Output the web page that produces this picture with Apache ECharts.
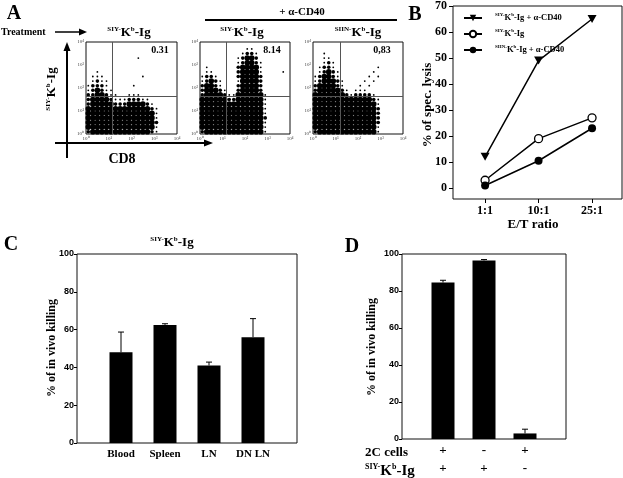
<!DOCTYPE html>
<html>
<head>
<meta charset="utf-8">
<script src="https://cdn.jsdelivr.net/npm/echarts@6/dist/echarts.min.js"></script>
<style>
    html, body { margin: 0; padding: 0; background: #fff; }
    #chart { width: 623px; height: 478px; }
</style>
</head>
<body>
<div id="chart"></div>
<script>
// A: dot plots, read as 20x20 density cells (0 empty, 1 sparse, 2 medium, 3 dense), top row first
const densitySiy = [
    '00000000000000000000',
    '00000000000000000000',
    '00000000000000000000',
    '00000000000100000000',
    '00000000000000000000',
    '00000000000000000000',
    '00100000000000000000',
    '01110000000010000000',
    '01211000000000000000',
    '12221000001000000000',
    '12321100000000000000',
    '22332110011100000000',
    '23333211122211000000',
    '23333322233332100000',
    '33333333333333210000',
    '33333333333333310000',
    '33333333333333310000',
    '33333333333333320000',
    '33333333333333310000',
    '23333333333333210000'
];
const densitySiyCd40 = [
    '00000000000000000000',
    '00000000001100000000',
    '00000000012210000000',
    '00000000123320000000',
    '00000000123321000000',
    '01000000233331000000',
    '01100000233331000010',
    '12210000233332000000',
    '12321000133332000000',
    '23321000233332000000',
    '23332100233332000000',
    '23333211333333100000',
    '33333322333333100000',
    '33333333333333100000',
    '33333333333333100000',
    '33333333333333100000',
    '33333333333333200000',
    '33333333333333100000',
    '33333333333333100000',
    '23333333333333100000'
];
const densitySiinCd40 = [
    '00000000000000000000',
    '00000000000000000000',
    '00100000000000000000',
    '00110000000000000000',
    '00121000000000000000',
    '01221000000000100000',
    '01232100000001000000',
    '12332100000010100000',
    '12333210000101000000',
    '23333210001010000000',
    '23333321011100000000',
    '33333332122221000000',
    '33333333333332100000',
    '33333333333333100000',
    '33333333333333200000',
    '33333333333333200000',
    '33333333333333200000',
    '33333333333333200000',
    '33333333333333100000',
    '23333333333333100000'
];
const plotPrefixes = ['SIY-', 'SIY-', 'SIIN-'];
const plotPercents = ['0.31', '8.14', '0,83'];
const gateX = [1.14, 1.16, 1.2];
const gateY = [1.65, 1.65, 1.65];
const decadeLabels = ['10⁰', '10¹', '10²', '10³', '10⁴'];

// B: lysis
const ratioLabels = ['1:1', '10:1', '25:1'];
const lysisSiyCd40 = [12, 49, 65];
const lysisSiy = [3, 19, 27];
const lysisSiinCd40 = [1, 10.5, 23];
const lysisTicks = [0, 10, 20, 30, 40, 50, 60, 70];

// C: organs
const organs = ['Blood', 'Spleen', 'LN', 'DN LN'];
const killingOrgans = [48, 62.5, 41, 56];
const killingOrgansErr = [10.7, 0.6, 1.8, 9.8];

// D: groups
const cellsRow = ['+', '-', '+'];
const tetramerRow = ['+', '+', '-'];
const killingGroups = [84.6, 96.5, 3];
const killingGroupsErr = [1.2, 0.5, 2.3];

const serif = 'Liberation Serif';
const sans = 'Liberation Sans';
const dotSize = [0, 1.8, 3.6, 5.6];

const chart = echarts.init(document.getElementById('chart'));

function densityPoints(rows) {
    const pts = [];
    rows.forEach((row, r) => {
        for (let c = 0; c < row.length; c++) {
            const level = +row[c];
            if (level > 0) {
                pts.push([c * 0.2 + 0.1, (rows.length - 1 - r) * 0.2 + 0.1, level]);
            }
        }
    });
    return pts;
}

function errorSeries(axis, means, errs) {
    return {
        type: 'custom',
        xAxisIndex: axis,
        yAxisIndex: axis,
        z: 3,
        silent: true,
        data: means.map((m, i) => [i + 1, m, m + errs[i]]),
        renderItem: function (params, api) {
            const base = api.coord([api.value(0), api.value(1)]);
            const top = api.coord([api.value(0), api.value(2)]);
            return {
                type: 'group',
                children: [
                    {type: 'line', shape: {x1: base[0], y1: base[1], x2: top[0], y2: top[1]}, style: {stroke: '#000', lineWidth: 1}},
                    {type: 'line', shape: {x1: top[0] - 3, y1: top[1], x2: top[0] + 3, y2: top[1]}, style: {stroke: '#000', lineWidth: 1}}
                ]
            };
        }
    };
}

function makeKbRich(big, small) {
    return {
        s: {fontFamily: serif, fontWeight: 'bold', fontSize: small, verticalAlign: 'top', lineHeight: big + 1},
        k: {fontFamily: serif, fontWeight: 'bold', fontSize: big, lineHeight: big + 1},
        b: {fontFamily: serif, fontWeight: 'bold', fontSize: small, verticalAlign: 'top', lineHeight: big + 1}
    };
}
const kbRich = makeKbRich(13, 7);

function kbText(prefix) {
    return '{s|' + prefix + '}{k|K}{b|b}{k|-Ig}';
}

// 1. grids
const grids = [
    {left: 86, top: 42, width: 91, height: 92},
    {left: 200, top: 42, width: 90, height: 92},
    {left: 313, top: 42, width: 90, height: 92},
    {left: 453, top: 5, width: 169, height: 194},
    {left: 77, top: 254, width: 220, height: 189},
    {left: 402, top: 254, width: 164, height: 189}
].map(g => Object.assign({show: true, borderColor: '#111', borderWidth: 1, containLabel: false}, g));

// 2. axes (onZero off so the axes stay on the grid edges)
const hiddenLine = {show: false, onZero: false};
const xAxes = [];
const yAxes = [];
for (let k = 0; k < 3; k++) {
    xAxes.push({
        type: 'value', gridIndex: k, min: 0, max: 4, interval: 1,
        axisLine: hiddenLine, axisTick: {show: false}, splitLine: {show: false},
        axisLabel: {fontSize: 5, color: '#444', margin: 2, formatter: v => decadeLabels[v]}
    });
    yAxes.push({
        type: 'value', gridIndex: k, min: 0, max: 4, interval: 1,
        axisLine: hiddenLine, axisTick: {show: false}, splitLine: {show: false},
        axisLabel: {fontSize: 5, color: '#444', margin: 2, formatter: v => decadeLabels[v]}
    });
}
xAxes.push({
    type: 'value', gridIndex: 3, min: -0.6, max: 2.56,
    axisLine: hiddenLine, splitLine: {show: false},
    axisTick: {show: true, inside: false, length: 4, customValues: [0, 1, 2], lineStyle: {color: '#000'}},
    axisLabel: {customValues: [0, 1, 2], formatter: v => ratioLabels[v], margin: 6,
        fontFamily: serif, fontWeight: 'bold', fontSize: 12, color: '#000'}
});
yAxes.push({
    type: 'value', gridIndex: 3, min: -4.2, max: 70,
    axisLine: hiddenLine, splitLine: {show: false},
    axisTick: {show: true, inside: false, length: 4, customValues: lysisTicks, lineStyle: {color: '#000'}},
    axisLabel: {customValues: lysisTicks, margin: 6, fontFamily: serif, fontWeight: 'bold', fontSize: 12, color: '#000'}
});
xAxes.push({
    type: 'value', gridIndex: 4, min: 0, max: 5,
    axisLine: hiddenLine, splitLine: {show: false}, axisTick: {show: false},
    axisLabel: {customValues: [1, 2, 3, 4], formatter: v => organs[v - 1], margin: 6,
        fontFamily: serif, fontWeight: 'bold', fontSize: 11, color: '#000'}
});
yAxes.push({
    type: 'value', gridIndex: 4, min: 0, max: 100, interval: 20,
    axisLine: hiddenLine, splitLine: {show: false},
    axisTick: {show: true, inside: false, length: 3, lineStyle: {color: '#000'}},
    axisLabel: {margin: 3, fontFamily: sans, fontWeight: 'bold', fontSize: 9, color: '#000'}
});
xAxes.push({
    type: 'value', gridIndex: 5, min: 0, max: 4,
    axisLine: hiddenLine, splitLine: {show: false}, axisTick: {show: false},
    axisLabel: {customValues: [1, 2, 3], margin: 3, lineHeight: 18,
        formatter: v => cellsRow[v - 1] + '\n' + tetramerRow[v - 1],
        fontFamily: serif, fontWeight: 'bold', fontSize: 13, color: '#000'}
});
yAxes.push({
    type: 'value', gridIndex: 5, min: 0, max: 100, interval: 20,
    axisLine: hiddenLine, splitLine: {show: false},
    axisTick: {show: true, inside: false, length: 3, lineStyle: {color: '#000'}},
    axisLabel: {margin: 3, fontFamily: sans, fontWeight: 'bold', fontSize: 9, color: '#000'}
});

// 3. series
const series = [];
[densitySiy, densitySiyCd40, densitySiinCd40].forEach((rows, k) => {
    series.push({
        type: 'scatter', xAxisIndex: k, yAxisIndex: k, silent: true,
        data: densityPoints(rows),
        symbolSize: v => dotSize[v[2]],
        itemStyle: {color: '#000', opacity: 1},
        markLine: {
            silent: true, symbol: 'none', label: {show: false}, animation: false,
            lineStyle: {color: '#555', width: 1, type: 'solid'},
            data: [{xAxis: gateX[k]}, {yAxis: gateY[k]}]
        }
    });
});

const legendNames = ['SIY-Kb-Ig + α-CD40', 'SIY-Kb-Ig', 'SIIN-Kb-Ig + α-CD40'];
const legendRich = {
    '0': '{g|}{s|SIY-}{k|K}{b|b}{k|-Ig + α-CD40}',
    '1': '{g|}{s|SIY-}{k|K}{b|b}{k|-Ig}',
    '2': '{g|}{s|SIIN-}{k|K}{b|b}{k|-Ig + α-CD40}'
};
const lineData = [lysisSiyCd40, lysisSiy, lysisSiinCd40];
const lineSymbols = ['path://M0,0L10,0L5,9Z', 'circle', 'circle'];
const lineFill = ['#000', '#fff', '#000'];
lineData.forEach((values, k) => {
    series.push({
        name: legendNames[k], type: 'line', xAxisIndex: 3, yAxisIndex: 3,
        data: values.map((v, i) => [i, v]),
        symbol: lineSymbols[k], symbolSize: k === 0 ? [9, 8] : 8, showAllSymbol: true,
        lineStyle: {color: '#000', width: 1.5},
        itemStyle: {color: lineFill[k], borderColor: '#000', borderWidth: k === 1 ? 1.3 : 0}
    });
});

series.push({
    type: 'bar', xAxisIndex: 4, yAxisIndex: 4, barWidth: 23, silent: true,
    data: killingOrgans.map((v, i) => [i + 1, v]), itemStyle: {color: '#000'}
});
series.push(errorSeries(4, killingOrgans, killingOrgansErr));
series.push({
    type: 'bar', xAxisIndex: 5, yAxisIndex: 5, barWidth: 23, silent: true,
    data: killingGroups.map((v, i) => [i + 1, v]), itemStyle: {color: '#000'}
});
series.push(errorSeries(5, killingGroups, killingGroupsErr));

// 4. texts and arrows
const bold = size => 'bold ' + size + 'px "' + serif + '"';
function txt(x, y, text, size, extra) {
    return {
        type: 'text', x: x, y: y,
        style: Object.assign({text: text, font: bold(size), fill: '#000', align: 'center', verticalAlign: 'middle'}, extra || {})
    };
}
function line(x1, y1, x2, y2, w) {
    return {type: 'line', shape: {x1: x1, y1: y1, x2: x2, y2: y2}, style: {stroke: '#000', lineWidth: w}};
}
function head(points) {
    return {type: 'polygon', shape: {points: points}, style: {fill: '#000'}};
}

const graphic = [
    txt(14, 14, 'A', 20),
    txt(415, 15, 'B', 20),
    txt(11, 245, 'C', 20),
    txt(352, 247, 'D', 20),
    txt(1, 32, 'Treatment', 10, {align: 'left'}),
    line(55, 32, 80, 32, 1.5), head([[87, 32], [79, 28.5], [79, 35.5]]),
    txt(302, 12, '+ α-CD40', 11),
    line(205, 20, 397, 20, 2),
    line(67, 158, 67, 50, 2), head([[67, 42], [63.5, 51], [70.5, 51]]),
    line(55, 143, 205, 143, 2), head([[213, 143], [204, 139.5], [204, 146.5]]),
    txt(122, 159, 'CD8', 14),
    {type: 'text', x: 52, y: 89, rotation: Math.PI / 2,
        style: {text: kbText('SIY-'), rich: kbRich, align: 'center', verticalAlign: 'middle', fill: '#000'}},
    {type: 'text', x: 428, y: 105, rotation: Math.PI / 2,
        style: {text: '% of spec. lysis', font: bold(13), align: 'center', verticalAlign: 'middle', fill: '#000'}},
    txt(533, 225, 'E/T ratio', 13),
    {type: 'text', x: 172, y: 243,
        style: {text: kbText('SIY-'), rich: kbRich, align: 'center', verticalAlign: 'middle', fill: '#000'}},
    {type: 'text', x: 52, y: 348, rotation: Math.PI / 2,
        style: {text: '% of in vivo killing', font: bold(12), align: 'center', verticalAlign: 'middle', fill: '#000'}},
    {type: 'text', x: 372, y: 347, rotation: Math.PI / 2,
        style: {text: '% of in vivo killing', font: bold(12), align: 'center', verticalAlign: 'middle', fill: '#000'}},
    txt(365, 453, '2C cells', 13, {align: 'left'}),
    {type: 'text', x: 365, y: 471,
        style: {text: kbText('SIY-'), rich: makeKbRich(15, 8), align: 'left', verticalAlign: 'middle', fill: '#000'}}
];
[129, 242, 358].forEach((cx, k) => {
    graphic.push({type: 'text', x: cx, y: 33,
        style: {text: kbText(plotPrefixes[k]), rich: kbRich, align: 'center', verticalAlign: 'middle', fill: '#000'}});
});
[160, 272, 382].forEach((cx, k) => {
    graphic.push(txt(cx, 50, plotPercents[k], 10));
});

chart.setOption({
    animation: false,
    backgroundColor: '#fff',
    textStyle: {fontFamily: serif},
    grid: grids,
    xAxis: xAxes,
    yAxis: yAxes,
    legend: {
        data: legendNames, orient: 'vertical', left: 458, top: 7, itemGap: 4,
        itemWidth: 18, itemHeight: 8,
        formatter: name => legendRich[legendNames.indexOf(name)],
        textStyle: {color: '#000', rich: {
            g: {width: 8},
            s: {fontFamily: serif, fontWeight: 'bold', fontSize: 5, verticalAlign: 'top', lineHeight: 10},
            k: {fontFamily: serif, fontWeight: 'bold', fontSize: 8.5, lineHeight: 10},
            b: {fontFamily: serif, fontWeight: 'bold', fontSize: 5, verticalAlign: 'top', lineHeight: 10}
        }}
    },
    graphic: graphic,
    series: series
});
</script>
</body>
</html>
